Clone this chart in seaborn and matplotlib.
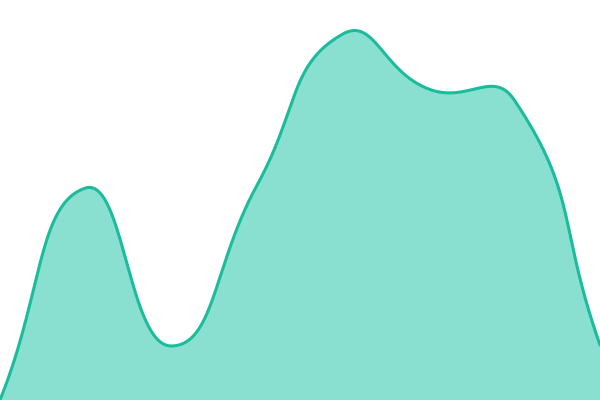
import numpy as np
import pandas as pd
import matplotlib
matplotlib.use("Agg")
import matplotlib.pyplot as plt
import seaborn as sns

# valores (altura acima da base, em px de 400)
steps = [0, 1, 2, 3, 4, 5, 6, 7]
values = [0, 212, 54, 215, 366, 311, 300, 55]

line_color = "#1abc9c"
fill_color = "#8ae0d0"

W, H = 600, 400


def smooth_curve(xs, ys, smooth=0.5, n=60):
    # bezier suave estilo "smooth line" calculado em px
    px = np.array(xs, dtype=float) * W / (len(xs) - 1)
    py = np.array(ys, dtype=float)
    cps = []
    for i in range(len(px)):
        p = np.array([px[i], py[i]])
        prev = np.array([px[max(i - 1, 0)], py[max(i - 1, 0)]])
        nxt = np.array([px[min(i + 1, len(px) - 1)], py[min(i + 1, len(px) - 1)]])
        v = (nxt - prev) * smooth
        d0 = np.hypot(*(p - prev))
        d1 = np.hypot(*(p - nxt))
        s = d0 + d1
        if s > 0:
            d0, d1 = d0 / s, d1 / s
        cps.append((p - v * d0, p + v * d1))
    out_x, out_y = [], []
    t = np.linspace(0, 1, n)[:, None]
    for i in range(len(px) - 1):
        p0 = np.array([px[i], py[i]])
        p3 = np.array([px[i + 1], py[i + 1]])
        c1 = cps[i][1]
        c2 = cps[i + 1][0]
        b = (1 - t) ** 3 * p0 + 3 * (1 - t) ** 2 * t * c1 + 3 * (1 - t) * t ** 2 * c2 + t ** 3 * p3
        out_x.extend(b[:, 0])
        out_y.extend(b[:, 1])
    return np.array(out_x), np.array(out_y)


cx, cy = smooth_curve(steps, values)
df = pd.DataFrame({"x": cx, "y": cy})

sns.set_style("white")
fig = plt.figure(figsize=(6, 4), dpi=100)
ax = fig.add_axes([0, 0, 1, 1])
ax.fill_between(df["x"], df["y"], 0, color=fill_color, linewidth=0)
sns.lineplot(data=df, x="x", y="y", ax=ax, color=line_color, linewidth=2.2, sort=False)
ax.set_xlim(0, W)
ax.set_ylim(0, H)
ax.axis("off")
fig.savefig("out.png", dpi=100)
